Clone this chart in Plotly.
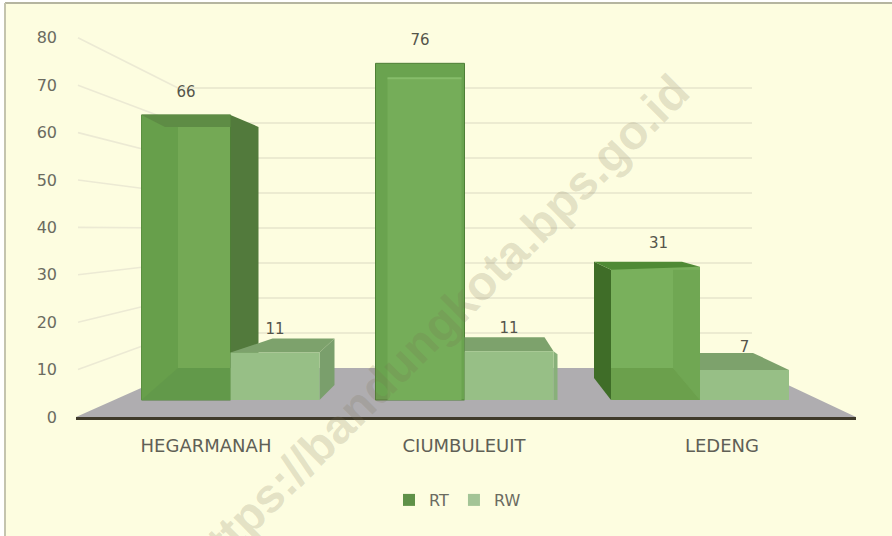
import plotly.graph_objects as go

CATEGORIES = ["HEGARMANAH", "CIUMBULEUIT", "LEDENG"]
RT = [66, 76, 31]
RW = [11, 11, 7]
TICKS = [0, 10, 20, 30, 40, 50, 60, 70, 80]

W, H = 892, 536
AXIS_PY, L, R = 417, 76, 856
CAT_X0, CAT_STEP = 206, 258
PX_PER_UNIT = 4.74
FRONT_BASE = 400
BACK_BASE, BACK_SCALE = 368, 3.5
BACK_L, BACK_R = 178, 752
GROUP_CX = [230.5, 464.5, 700]
GROUP_SCALE = [4.32, 4.43, 4.3]
BW = 89
RW_DX = [15, -9, -36]
RW_DY = [14, 14, 17]
BG = "#FDFDE0"

def X(px): return (px - CAT_X0) / CAT_STEP
def Y(py): return (AXIS_PY - py) / PX_PER_UNIT
def PXF(px): return (px - L) / (R - L)
def PYF(py): return (AXIS_PY - py) / AXIS_PY

fig = go.Figure()

def poly(points, color, line=None):
    xs = [X(p[0]) for p in points] + [X(points[0][0])]
    ys = [Y(p[1]) for p in points] + [Y(points[0][1])]
    fig.add_trace(go.Scatter(x=xs, y=ys, mode="lines", fill="toself", fillcolor=color,
                             line=dict(color=line or color, width=1 if line else 0),
                             hoverinfo="skip", showlegend=False))

def seg(points, color, width=1.5):
    fig.add_trace(go.Scatter(x=[X(p[0]) for p in points], y=[Y(p[1]) for p in points],
                             mode="lines", line=dict(color=color, width=width),
                             hoverinfo="skip", showlegend=False))

# back wall grid
for t in TICKS[1:]:
    by = BACK_BASE - BACK_SCALE * t
    seg([(78, AXIS_PY - PX_PER_UNIT * t), (BACK_L, by)], "#ECEAD4", 1.6)
    seg([(BACK_L, by), (BACK_R, by)], "#E6E4CC", 1.6)

# floor
poly([(L, AXIS_PY), (186, BACK_BASE), (BACK_R, BACK_BASE), (R, AXIS_PY)], "#AFADB0")

OUT = "#4E7F36"
for g, cx in enumerate(GROUP_CX):
    l, r = cx - BW, cx
    top = FRONT_BASE - RT[g] * GROUP_SCALE[g]
    if g == 0:
        poly([(r, top), (r + 28, top + 12), (r + 28, BACK_BASE), (r, FRONT_BASE)], "#527A3C")
        poly([(l, top), (r, top), (r, FRONT_BASE), (l, FRONT_BASE)], "#74A955", OUT)
        poly([(l, top), (178, top), (178, FRONT_BASE), (l, FRONT_BASE)], "#679F4B")
        poly([(l, FRONT_BASE), (178, BACK_BASE), (r, BACK_BASE), (r, FRONT_BASE)], "#62994A")
        poly([(l, top), (r, top), (r, top + 12), (165, top + 12)], "#5E8C45")
    elif g == 1:
        poly([(l, top), (r, top), (r, FRONT_BASE), (l, FRONT_BASE)], "#6AA34F", OUT)
        poly([(l + 12, top + 15), (r - 3, top + 15), (r - 3, FRONT_BASE), (l + 12, FRONT_BASE)], "#75AD59")
        seg([(l + 12, top + 15), (r - 3, top + 15)], "#86BD6A", 2)
    else:
        poly([(l - 17, top - 5), (l, top + 3), (l, FRONT_BASE), (l - 17, FRONT_BASE - 22)], "#3F6D28")
        poly([(l, top), (r, top), (r, FRONT_BASE), (l, FRONT_BASE)], "#79B05C")
        poly([(r - 27, top + 3), (r, top + 3), (r, FRONT_BASE), (r - 27, BACK_BASE)], "#70A753")
        poly([(l, FRONT_BASE), (l, BACK_BASE), (r - 27, BACK_BASE), (r, FRONT_BASE)], "#6BA04C")
        poly([(l - 17, top - 5), (r - 18, top - 5), (r, top), (l, top + 3)], "#4F8A35")

    # RW bar
    wl, wr = cx, cx + BW
    wt = FRONT_BASE - RW[g] * GROUP_SCALE[g]
    dx, dy = RW_DX[g], RW_DY[g]
    if g == 0:
        poly([(wr, wt), (wr + dx, wt - dy), (wr + dx, FRONT_BASE - 15), (wr, FRONT_BASE)], "#7A9F6C")
    if g == 1:
        poly([(wr, wt), (wr + 4, wt + 3), (wr + 4, FRONT_BASE), (wr, FRONT_BASE)], "#88B07A")
    poly([(wl, wt), (wl + max(dx, 0) + (27 if g == 0 else 0), wt - dy), (wr + dx, wt - dy), (wr, wt)], "#7DA26C")
    poly([(wl, wt), (wr, wt), (wr, FRONT_BASE), (wl, FRONT_BASE)], "#97BF86")

# value labels
lx, ly, lt = [], [], []
for g, cx in enumerate(GROUP_CX):
    s = GROUP_SCALE[g]
    lx += [X(cx - BW / 2 + (3 if g == 2 else 0)), X(cx + BW / 2)]
    ly += [Y(FRONT_BASE - RT[g] * s - 22), Y(FRONT_BASE - RW[g] * s - 22)]
    lt += [str(RT[g]), str(RW[g])]
fig.add_trace(go.Scatter(x=lx, y=ly, mode="text", text=lt, textposition="middle center",
                         textfont=dict(family="DejaVu Sans", size=15, color="#55554B"),
                         hoverinfo="skip", showlegend=False))

# legend keys
for name, col in (("RT", "#5F9148"), ("RW", "#A3C496")):
    fig.add_trace(go.Scatter(x=[None], y=[None], mode="markers", name=name,
                             marker=dict(symbol="square", size=12, color=col)))

fig.update_layout(
    width=W, height=H, margin=dict(l=L, r=W - R, t=0, b=H - AXIS_PY),
    paper_bgcolor=BG, plot_bgcolor="rgba(0,0,0,0)",
    font=dict(family="DejaVu Sans", color="#55554B"),
    xaxis=dict(range=[X(L), X(R)], tickmode="array", tickvals=list(range(len(CATEGORIES))),
               ticktext=CATEGORIES, showgrid=False, zeroline=False, showline=True,
               linecolor="#3F3A2A", linewidth=3, ticks="", ticklabelstandoff=10,
               tickfont=dict(size=18, color="#606056")),
    yaxis=dict(range=[0, Y(0)], tickmode="array", tickvals=TICKS, showgrid=False,
               zeroline=False, showline=False, ticks="", ticklabelstandoff=18,
               tickfont=dict(size=16, color="#6B6B60")),
    legend=dict(orientation="h", x=PXF(389), xanchor="left", y=PYF(483),
                yanchor="top", font=dict(size=16, color="#6B6B60"), bgcolor="rgba(0,0,0,0)",
                itemwidth=30),
    shapes=[
        dict(type="rect", xref="paper", yref="paper", layer="below", x0=PXF(-5), x1=PXF(5),
             y0=PYF(H + 5), y1=PYF(-5), fillcolor="white", line=dict(width=0)),
        dict(type="rect", xref="paper", yref="paper", layer="below", x0=PXF(-5), x1=PXF(W + 5),
             y0=PYF(3), y1=PYF(-5), fillcolor="white", line=dict(width=0)),
        dict(type="line", xref="paper", yref="paper", layer="below", x0=PXF(5), x1=PXF(W + 5),
             y0=PYF(3), y1=PYF(3), line=dict(color="#B5B5A0", width=2)),
        dict(type="line", xref="paper", yref="paper", layer="below", x0=PXF(5), x1=PXF(5),
             y0=PYF(3), y1=PYF(H + 5), line=dict(color="#C4C4AE", width=2)),
    ],
    annotations=[
        dict(text="<b>https://bandungkota.bps.go.id</b>", xref="x", yref="y", x=X(437), y=Y(326),
             showarrow=False, textangle=-45, font=dict(family="Liberation Sans", size=48,
             color="rgba(120,110,80,0.2)")),
    ],
)

fig.write_html("out.html", post_script="document.body.style.margin='0';", config=dict(displayModeBar=False))
